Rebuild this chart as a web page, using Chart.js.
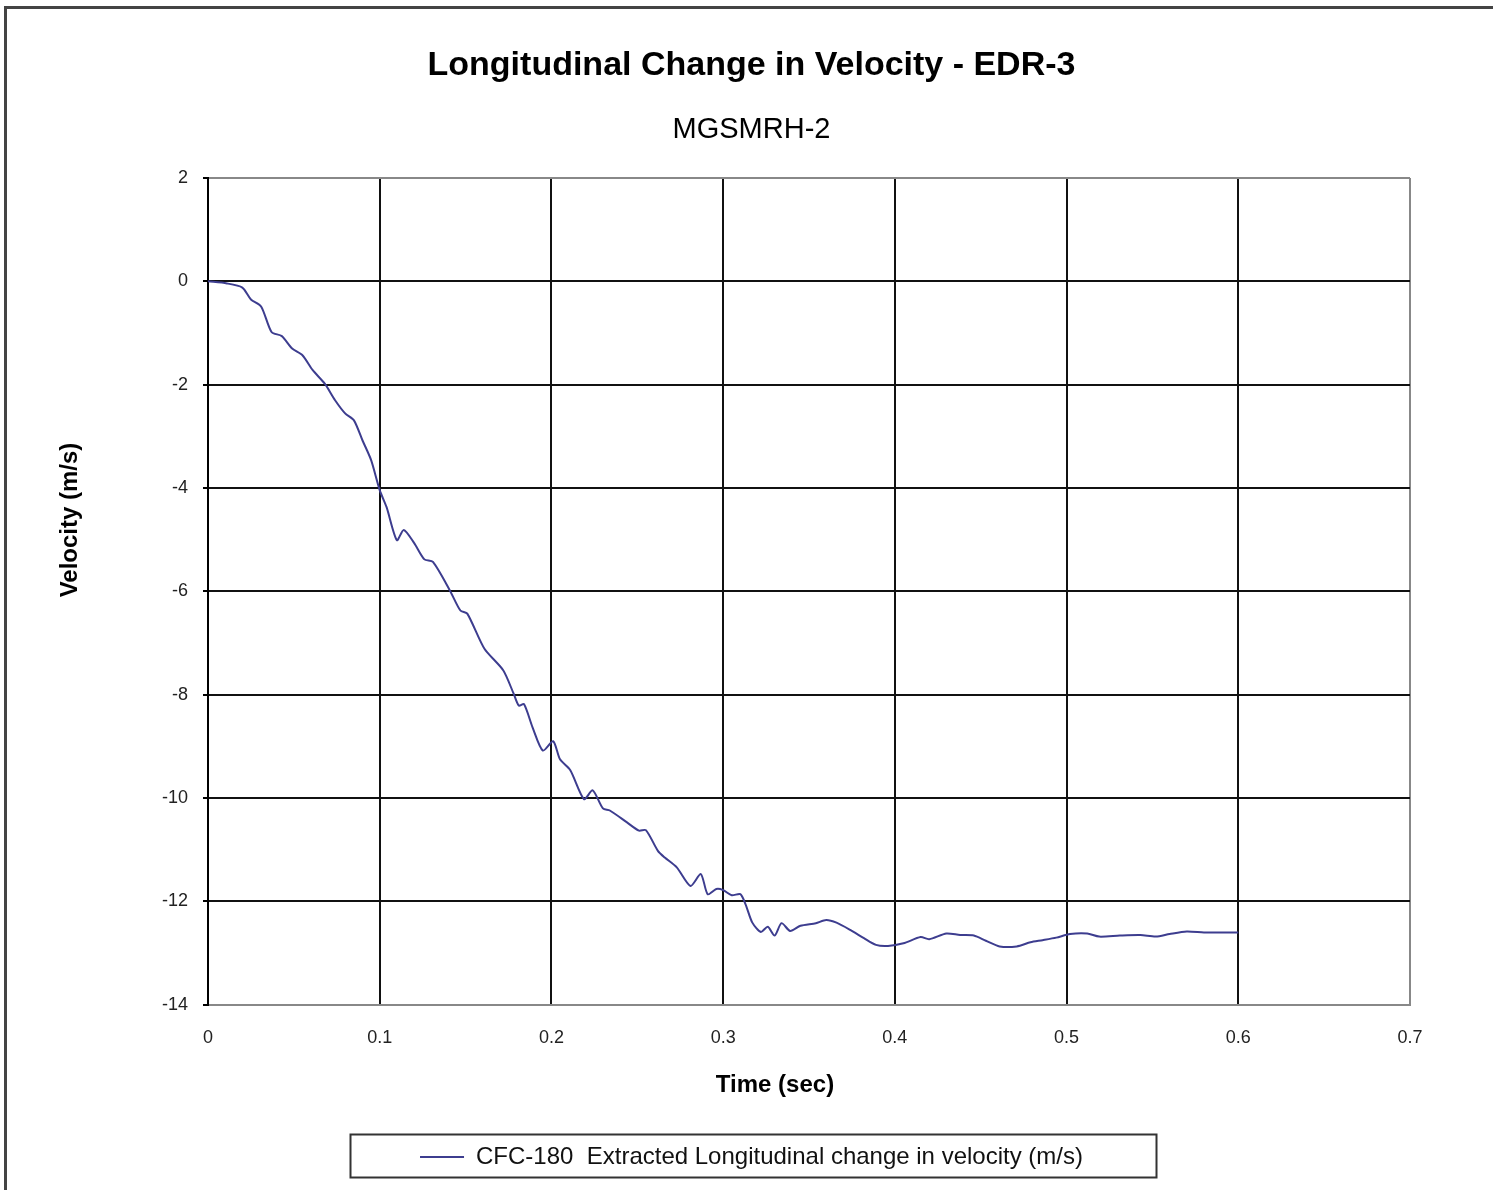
<!DOCTYPE html>
<html>
<head>
<meta charset="utf-8">
<title>Longitudinal Change in Velocity - EDR-3</title>
<script src="https://cdn.jsdelivr.net/npm/chart.js@4.4.1/dist/chart.umd.min.js"></script>
<style>
  html, body { margin: 0; padding: 0; background: #fff; }
  #wrap { position: relative; width: 1493px; height: 1190px; }
</style>
</head>
<body>
<div id="wrap"><canvas id="velocity"></canvas></div>
<script>
// time (sec) and velocity (m/s)
var timeSec = [0, 0.011, 0.020, 0.025, 0.031, 0.037, 0.043, 0.049, 0.055, 0.061,
  0.068, 0.074, 0.080, 0.085, 0.090, 0.095, 0.100, 0.104, 0.110, 0.114,
  0.120, 0.126, 0.131, 0.141, 0.147, 0.151, 0.161, 0.172, 0.178, 0.181,
  0.184, 0.189, 0.195, 0.201, 0.205, 0.211, 0.219, 0.224, 0.230, 0.234,
  0.244, 0.251, 0.255, 0.262, 0.266, 0.273, 0.281, 0.287, 0.291, 0.296,
  0.300, 0.305, 0.310, 0.313, 0.317, 0.322, 0.326, 0.330, 0.334, 0.339,
  0.345, 0.354, 0.360, 0.366, 0.374, 0.382, 0.389, 0.396, 0.405, 0.415,
  0.420, 0.430, 0.438, 0.446, 0.453, 0.461, 0.471, 0.479, 0.486, 0.494,
  0.502, 0.512, 0.519, 0.531, 0.543, 0.552, 0.560, 0.570, 0.580, 0.589, 0.600];
var velocity = [0, -0.04, -0.12, -0.35, -0.49, -0.98, -1.06, -1.30, -1.43, -1.72,
  -1.98, -2.30, -2.56, -2.69, -3.08, -3.46, -4.04, -4.37, -5.01, -4.81,
  -5.06, -5.38, -5.43, -5.99, -6.37, -6.43, -7.11, -7.53, -7.98, -8.21,
  -8.18, -8.63, -9.08, -8.90, -9.25, -9.46, -10.02, -9.85, -10.20, -10.24,
  -10.47, -10.63, -10.62, -11.02, -11.15, -11.34, -11.70, -11.47, -11.86, -11.76,
  -11.78, -11.88, -11.86, -12.05, -12.41, -12.59, -12.49, -12.66, -12.42, -12.57,
  -12.47, -12.42, -12.36, -12.41, -12.55, -12.71, -12.84, -12.86, -12.81, -12.69,
  -12.73, -12.62, -12.65, -12.66, -12.76, -12.87, -12.87, -12.79, -12.75, -12.70,
  -12.63, -12.62, -12.68, -12.66, -12.65, -12.68, -12.63, -12.58, -12.60, -12.60, -12.60];

var seriesLabel = 'CFC-180  Extracted Longitudinal change in velocity (m/s)';
var xTitle = 'Time (sec)';
var yTitle = 'Velocity (m/s)';
var xRange = [0, 0.7, 0.1];
var yRange = [-14, 2, 2];

var points = [];
for (var i = 0; i < timeSec.length; i++) {
  points.push({x: timeSec[i], y: velocity[i]});
}

var fontFam = '"Liberation Sans", Arial, sans-serif';

// page frame, axis titles (off-centre like the original) and legend box
var framePlugin = {
  id: 'frame',
  beforeDraw: function(chart) {
    var ctx = chart.ctx;
    ctx.save();
    ctx.fillStyle = '#fff';
    ctx.fillRect(0, 0, chart.width, chart.height);
    ctx.strokeStyle = '#444';
    ctx.lineWidth = 3;
    ctx.beginPath();
    ctx.moveTo(5.5, chart.height);
    ctx.lineTo(5.5, 7.5);
    ctx.lineTo(chart.width, 7.5);
    ctx.stroke();
    ctx.restore();
  },
  afterDraw: function(chart) {
    var ctx = chart.ctx;
    ctx.save();
    ctx.fillStyle = '#000';
    ctx.font = 'bold 24px ' + fontFam;
    ctx.textAlign = 'center';
    ctx.textBaseline = 'middle';
    ctx.fillText(xTitle, 775, 1085);
    ctx.translate(70, 520);
    ctx.rotate(-Math.PI / 2);
    ctx.fillText(yTitle, 0, 0);
    ctx.restore();

    var lg = chart.legend;
    if (!lg || !lg.legendHitBoxes || !lg.legendHitBoxes.length) return;
    var hb = lg.legendHitBoxes[0];
    var cx = hb.left + hb.width / 2 + 1;
    var cy = hb.top + hb.height / 2;
    ctx.save();
    ctx.strokeStyle = '#333';
    ctx.lineWidth = 2;
    ctx.strokeRect(Math.round(cx - 403) + 0.5, Math.round(cy - 23.5) + 0.5, 806, 43);
    ctx.restore();
  }
};

new Chart(document.getElementById('velocity'), {
  type: 'line',
  data: {
    datasets: [{
      label: seriesLabel,
      data: points,
      borderColor: '#3d3d8f',
      backgroundColor: '#3d3d8f',
      borderWidth: 2,
      pointRadius: 0,
      tension: 0.25,
      fill: false
    }]
  },
  options: {
    responsive: true,
    maintainAspectRatio: false,
    animation: false,
    layout: { padding: { left: 93, right: 83, top: 0, bottom: 11 } },
    plugins: {
      title: {
        display: true,
        text: 'Longitudinal Change in Velocity - EDR-3',
        color: '#000',
        font: { family: fontFam, size: 34, weight: 'bold' },
        padding: { top: 45.6, bottom: 0 }
      },
      subtitle: {
        display: true,
        text: 'MGSMRH-2',
        color: '#000',
        font: { family: fontFam, size: 29, weight: 'normal' },
        padding: { top: 26.2, bottom: 30.6 }
      },
      legend: {
        display: true,
        position: 'bottom',
        labels: {
          usePointStyle: true,
          pointStyle: 'line',
          pointStyleWidth: 44,
          boxHeight: 2,
          padding: 10,
          color: '#111',
          font: { family: fontFam, size: 24 }
        }
      },
      tooltip: { enabled: false }
    },
    scales: {
      x: {
        type: 'linear',
        min: xRange[0],
        max: xRange[1],
        ticks: {
          stepSize: xRange[2],
          padding: 22,
          color: '#222',
          font: { family: fontFam, size: 18 },
          callback: function(v) { return String(Number(v.toFixed(1))); }
        },
        grid: {
          drawTicks: false,
          lineWidth: 2,
          color: function(c) {
            return (c.tick && Math.abs(c.tick.value - xRange[1]) < 1e-6) ? '#888' : '#111';
          }
        },
        border: { color: '#888', width: 2 },
        afterFit: function(scale) { scale.height = 130.2; }
      },
      y: {
        type: 'linear',
        min: yRange[0],
        max: yRange[1],
        ticks: {
          stepSize: yRange[2],
          padding: 15,
          color: '#222',
          font: { family: fontFam, size: 18 }
        },
        grid: {
          tickLength: 5,
          tickColor: '#000',
          lineWidth: 2,
          color: function(c) {
            if (!c.tick) return '#111';
            var v = c.tick.value;
            return (v === yRange[0] || v === yRange[1]) ? '#888' : '#111';
          }
        },
        border: { color: '#000', width: 2 },
        afterFit: function(scale) { scale.width = 115; }
      }
    }
  },
  plugins: [framePlugin]
});
</script>
</body>
</html>
